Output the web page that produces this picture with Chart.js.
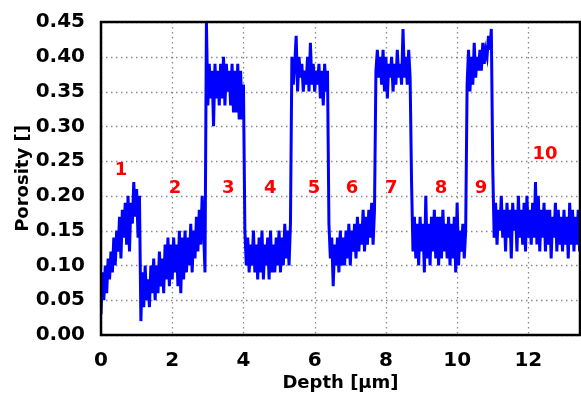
<!DOCTYPE html>
<html>
<head>
<meta charset="utf-8">
<script src="https://cdn.jsdelivr.net/npm/chart.js@4"></script>
<style>
  html, body { margin: 0; padding: 0; background: #fff; }
  #wrap { width: 581px; height: 394px; }
</style>
</head>
<body>
<div id="wrap"><canvas id="porosityChart" width="581" height="394"></canvas></div>
<script>
const depthStep = 0.04;
const layerStarts = [0, 1.12, 2.96, 4.04, 5.36, 6.40, 7.72, 8.72, 10.28, 11.00];

const layer1 = [0.03,0.09,0.05,0.10,0.06,0.11,0.08,0.12,0.09,0.14,
  0.10,0.15,0.12,0.17,0.11,0.18,0.14,0.19,0.13,0.20,
  0.12,0.19,0.16,0.22,0.17,0.21,0.14,0.20];
const layer2 = [0.02,0.09,0.04,0.10,0.05,0.08,0.04,0.10,0.06,0.11,
  0.05,0.10,0.06,0.12,0.07,0.11,0.06,0.13,0.08,0.14,
  0.07,0.13,0.08,0.14,0.09,0.13,0.07,0.15,0.06,0.14,
  0.08,0.15,0.09,0.14,0.10,0.16,0.09,0.15,0.11,0.17,
  0.12,0.18,0.13,0.20,0.15,0.09];
const layer3 = [0.45,0.33,0.39,0.34,0.38,0.30,0.39,0.34,0.38,0.33,
  0.39,0.34,0.40,0.33,0.39,0.35,0.38,0.33,0.39,0.32,
  0.38,0.32,0.39,0.31,0.38,0.31,0.36];
const layer4 = [0.15,0.10,0.14,0.09,0.13,0.10,0.15,0.09,0.13,0.08,
  0.14,0.09,0.15,0.08,0.13,0.10,0.14,0.08,0.15,0.09,
  0.13,0.09,0.14,0.10,0.15,0.09,0.14,0.10,0.16,0.11,
  0.15,0.10,0.16];
const layer5 = [0.40,0.36,0.39,0.43,0.35,0.40,0.37,0.39,0.35,0.38,
  0.36,0.40,0.35,0.42,0.36,0.39,0.35,0.38,0.36,0.39,
  0.34,0.38,0.33,0.39,0.35,0.38];
const layer6 = [0.16,0.11,0.14,0.07,0.13,0.10,0.14,0.09,0.15,0.10,
  0.14,0.10,0.15,0.11,0.16,0.10,0.15,0.12,0.16,0.11,
  0.17,0.12,0.16,0.13,0.18,0.12,0.17,0.13,0.18,0.14,
  0.19,0.13,0.18];
const layer7 = [0.38,0.41,0.37,0.40,0.36,0.41,0.35,0.40,0.34,0.39,
  0.37,0.40,0.35,0.39,0.36,0.41,0.37,0.39,0.36,0.44,
  0.37,0.40,0.36,0.41,0.37];
const layer8 = [0.22,0.12,0.17,0.11,0.16,0.10,0.17,0.12,0.16,0.09,
  0.20,0.11,0.16,0.10,0.17,0.12,0.18,0.11,0.17,0.10,
  0.17,0.11,0.18,0.12,0.16,0.11,0.17,0.10,0.16,0.11,
  0.17,0.09,0.19,0.10,0.15,0.12,0.16,0.11,0.15];
const layer9 = [0.36,0.41,0.35,0.40,0.36,0.42,0.37,0.40,0.38,0.41,
  0.38,0.42,0.39,0.41,0.40,0.43,0.41,0.44];
const layer10 = [0.24,0.14,0.19,0.13,0.18,0.15,0.20,0.14,0.18,0.12,
  0.19,0.14,0.18,0.11,0.19,0.15,0.18,0.12,0.20,0.14,
  0.18,0.13,0.19,0.12,0.20,0.14,0.18,0.13,0.19,0.14,
  0.22,0.13,0.20,0.12,0.18,0.14,0.19,0.12,0.18,0.13,
  0.18,0.11,0.17,0.14,0.19,0.12,0.18,0.13,0.17,0.12,
  0.18,0.13,0.17,0.11,0.19,0.13,0.18,0.12,0.17,0.13,
  0.18,0.12];
const layers = [layer1, layer2, layer3, layer4, layer5, layer6, layer7, layer8, layer9, layer10];

// Layer numbers written on the plot
const layerNames = ['1','2','3','4','5','6','7','8','9','10'];
const nameDepth = [0.56, 2.08, 3.57, 4.75, 5.98, 7.05, 8.15, 9.55, 10.67, 12.47];
const namePorosity = [0.237, 0.211, 0.211, 0.211, 0.211, 0.211, 0.211, 0.211, 0.211, 0.26];

// Axis ticks
const xTicks = [0, 2, 4, 6, 8, 10, 12];
const yTicks = [0, 0.05, 0.10, 0.15, 0.20, 0.25, 0.30, 0.35, 0.40, 0.45];

// Build the point list
const points = [];
layers.forEach((vals, k) => {
    vals.forEach((v, j) => points.push({ x: layerStarts[k] + j * depthStep, y: v }));
});

Chart.defaults.font.family = "'DejaVu Sans', sans-serif";
Chart.defaults.font.weight = 'bold';
Chart.defaults.color = '#000';

// Dotted grid under the line, black frame + red layer numbers on top
const decorPlugin = {
    id: 'decor',
    beforeDatasetsDraw(chart) {
        const c = chart.ctx, a = chart.chartArea;
        const xs = chart.scales.x, ys = chart.scales.y;
        c.save();
        c.strokeStyle = '#8a8a8a';
        c.lineWidth = 1.3;
        c.setLineDash([1.5, 3.5]);
        xTicks.forEach(v => {
            const px = Math.round(xs.getPixelForValue(v)) + 0.5;
            c.beginPath(); c.moveTo(px, a.top); c.lineTo(px, a.bottom); c.stroke();
        });
        yTicks.forEach(v => {
            const py = Math.round(ys.getPixelForValue(v)) + 0.5;
            c.beginPath(); c.moveTo(a.left, py); c.lineTo(a.right, py); c.stroke();
        });
        c.restore();
    },
    afterDraw(chart) {
        const c = chart.ctx, a = chart.chartArea;
        const xs = chart.scales.x, ys = chart.scales.y;
        c.save();
        c.fillStyle = '#ff0000';
        c.font = "bold 18px 'DejaVu Sans'";
        c.textAlign = 'center';
        c.textBaseline = 'middle';
        layerNames.forEach((t, i) => {
            c.fillText(t, xs.getPixelForValue(nameDepth[i]), ys.getPixelForValue(namePorosity[i]));
        });
        c.strokeStyle = '#000';
        c.lineWidth = 2.5;
        c.strokeRect(a.left, a.top, a.right - a.left, a.bottom - a.top);
        c.restore();
    }
};

new Chart(document.getElementById('porosityChart'), {
    type: 'line',
    data: {
        datasets: [{
            data: points,
            borderColor: '#0000ff',
            borderWidth: 3,
            pointRadius: 0,
            tension: 0,
            fill: false
        }]
    },
    options: {
        responsive: false,
        animation: false,
        layout: { padding: { top: 22, right: 1, left: 0, bottom: 0 } },
        plugins: { legend: { display: false }, tooltip: { enabled: false } },
        scales: {
            x: {
                type: 'linear',
                min: 0,
                max: 13.45,
                afterBuildTicks: s => { s.ticks = xTicks.map(v => ({ value: v })); },
                afterFit: s => { s.height = 59; },
                grid: { display: false },
                border: { display: false },
                ticks: { font: { size: 20, weight: 'bold' }, padding: 6, maxRotation: 0 },
                title: { display: true, text: 'Depth [μm]', font: { size: 18, weight: 'bold' }, padding: { top: 0, bottom: 0 } }
            },
            y: {
                type: 'linear',
                min: 0,
                max: 0.45,
                afterBuildTicks: s => { s.ticks = yTicks.map(v => ({ value: v })); },
                afterFit: s => { s.width = 101; },
                grid: { display: false },
                border: { display: false },
                ticks: { font: { size: 20, weight: 'bold' }, padding: 8, callback: v => v.toFixed(2) },
                title: { display: true, text: 'Porosity []', font: { size: 18, weight: 'bold' }, padding: { top: 13, bottom: 0 } }
            }
        }
    },
    plugins: [decorPlugin]
});
</script>
</body>
</html>
